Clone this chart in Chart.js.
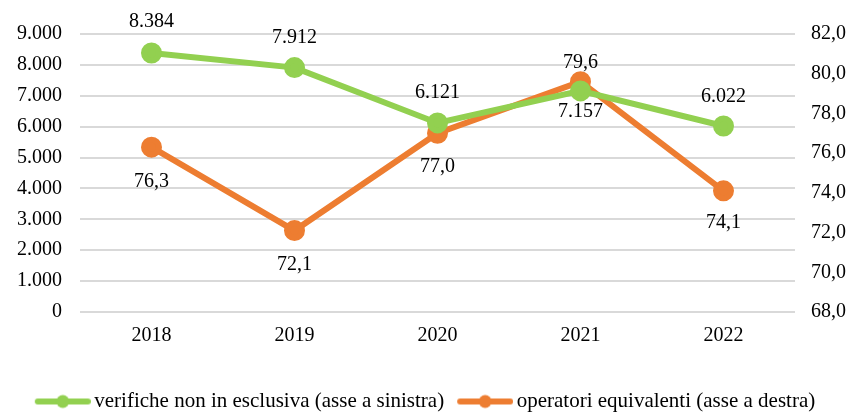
<!DOCTYPE html>
<html>
<head>
<meta charset="utf-8">
<script src="https://cdn.jsdelivr.net/npm/chart.js@4/dist/chart.umd.min.js"></script>
<style>
  html, body { margin: 0; padding: 0; background: #fff; }
  #wrap { width: 853px; height: 417px; }
</style>
</head>
<body>
<div id="wrap"><canvas id="chart"></canvas></div>
<script>
const years = ["2018", "2019", "2020", "2021", "2022"];
const verifiche = [8384, 7912, 6121, 7157, 6022];
const operatori = [76.3, 72.1, 77.0, 79.6, 74.1];
const leftTicks = [0, 1000, 2000, 3000, 4000, 5000, 6000, 7000, 8000, 9000];
const rightTicks = [68, 70, 72, 74, 76, 78, 80, 82];

// label placement: negative = above the point, positive = below
const verificheLabelPos = [-31, -30, -30, 21, -29];
const operatoriLabelPos = [35, 34, 33, -19, 32];

const serif = "'Liberation Serif', 'Times New Roman', serif";
const green = "#92D050";
const orange = "#ED7D31";

function fmtThousands(v) {
  return String(Math.round(v)).replace(/\B(?=(\d{3})+(?!\d))/g, ".");
}
function fmtDecimal(v) {
  return v.toFixed(1).replace(".", ",");
}

// line + marker icon for the legend, shifted right so it sits close to the text
function legendIcon(color) {
  const c = document.createElement("canvas");
  c.width = 60; c.height = 16;
  const g = c.getContext("2d");
  g.strokeStyle = color;
  g.lineWidth = 6;
  g.lineCap = "round";
  g.beginPath(); g.moveTo(7, 8); g.lineTo(57, 8); g.stroke();
  g.fillStyle = color;
  g.beginPath(); g.arc(32, 8, 6.5, 0, Math.PI * 2); g.fill();
  return c;
}

const valueLabels = {
  id: "valueLabels",
  afterDatasetsDraw(chart) {
    const ctx = chart.ctx;
    ctx.save();
    ctx.font = "20px " + serif;
    ctx.fillStyle = "#000";
    ctx.textAlign = "center";
    ctx.textBaseline = "middle";
    chart.data.datasets.forEach((ds, i) => {
      const meta = chart.getDatasetMeta(i);
      meta.data.forEach((pt, j) => {
        ctx.fillText(ds.fmt(ds.data[j]), pt.x, pt.y + ds.labelPos[j]);
      });
    });
    ctx.restore();
  }
};

new Chart(document.getElementById("chart"), {
  type: "line",
  data: {
    labels: years,
    datasets: [
      {
        label: "verifiche non in esclusiva (asse a sinistra)",
        data: verifiche,
        yAxisID: "y",
        borderColor: green,
        backgroundColor: green,
        borderWidth: 6,
        pointRadius: 7.5,
        pointHoverRadius: 7.5,
        tension: 0,
        fmt: fmtThousands,
        labelPos: verificheLabelPos,
        icon: legendIcon(green)
      },
      {
        label: "operatori equivalenti (asse a destra)",
        data: operatori,
        yAxisID: "y1",
        borderColor: orange,
        backgroundColor: orange,
        borderWidth: 6,
        pointRadius: 7.5,
        pointHoverRadius: 7.5,
        tension: 0,
        fmt: fmtDecimal,
        labelPos: operatoriLabelPos,
        icon: legendIcon(orange)
      }
    ]
  },
  options: {
    responsive: true,
    maintainAspectRatio: false,
    animation: false,
    layout: { padding: { top: 34, bottom: -5, left: 0, right: 0 } },
    plugins: {
      legend: {
        position: "bottom",
        labels: {
          usePointStyle: true,
          pointStyleWidth: 46,
          color: "#000",
          font: { family: serif, size: 21 },
          padding: 16,
          generateLabels(chart) {
            return chart.data.datasets.map((ds, i) => ({
              text: ds.label,
              pointStyle: ds.icon,
              fillStyle: ds.borderColor,
              strokeStyle: ds.borderColor,
              lineWidth: 0,
              fontColor: "#000",
              hidden: false,
              datasetIndex: i
            }));
          }
        }
      },
      tooltip: { enabled: false }
    },
    scales: {
      x: {
        offset: true,
        grid: { display: false, drawTicks: false },
        border: { display: false },
        ticks: { color: "#000", font: { family: serif, size: 20 }, padding: 12 },
        afterFit(scale) { scale.height = 63; }
      },
      y: {
        position: "left",
        min: 0,
        max: 9000,
        afterBuildTicks(scale) { scale.ticks = leftTicks.map(v => ({ value: v })); },
        grid: { color: "#D9D9D9", lineWidth: 2, drawTicks: false },
        border: { display: false },
        ticks: {
          color: "#000",
          font: { family: serif, size: 20 },
          padding: 18,
          callback: v => fmtThousands(v)
        },
        afterFit(scale) { scale.width = 80; }
      },
      y1: {
        position: "right",
        min: 68,
        max: 82,
        afterBuildTicks(scale) { scale.ticks = rightTicks.map(v => ({ value: v })); },
        grid: { display: false, drawTicks: false },
        border: { display: false },
        ticks: {
          color: "#000",
          font: { family: serif, size: 20 },
          padding: 16,
          callback: v => fmtDecimal(v)
        },
        afterFit(scale) { scale.width = 58; }
      }
    }
  },
  plugins: [valueLabels]
});
</script>
</body>
</html>
